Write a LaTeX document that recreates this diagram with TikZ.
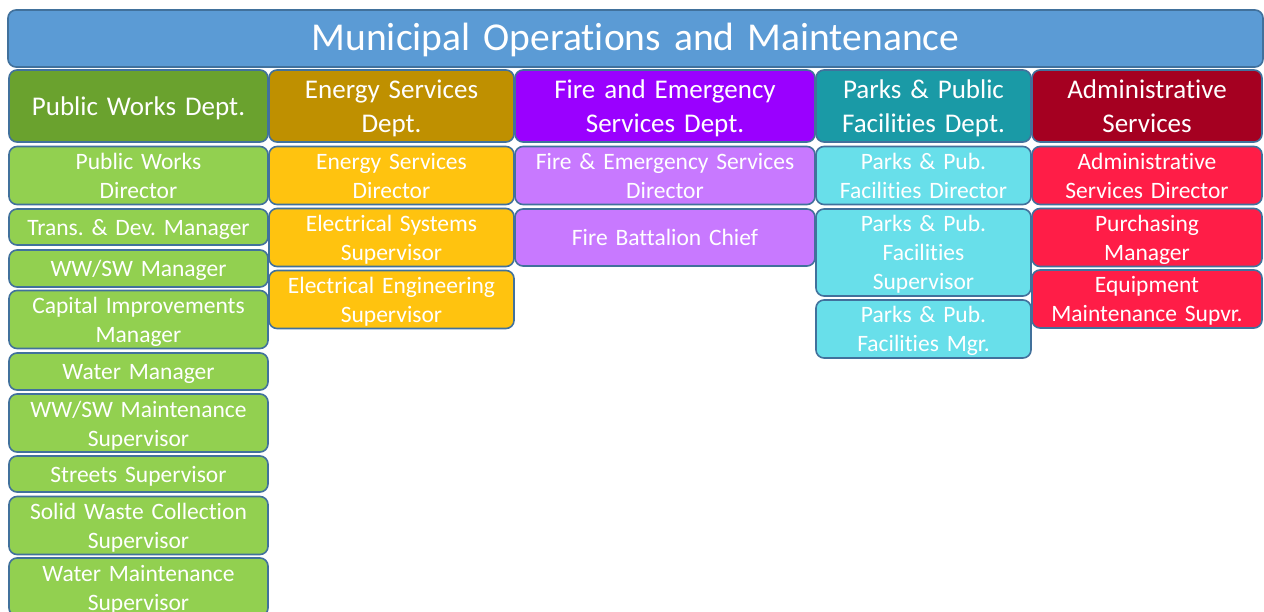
\documentclass[tikz,border=0pt]{standalone}
\usepackage{fontspec}
\setmainfont[Ligatures=NoCommon]{Carlito}
\definecolor{bord}{HTML}{41719C}
\definecolor{banner}{HTML}{5B9BD5}
\definecolor{pwH}{HTML}{6AA22E}
\definecolor{pwI}{HTML}{92D050}
\definecolor{esH}{HTML}{BF9000}
\definecolor{esI}{HTML}{FFC30F}
\definecolor{fiH}{HTML}{9A00FF}
\definecolor{fiI}{HTML}{C879FF}
\definecolor{paH}{HTML}{1A9AA6}
\definecolor{paI}{HTML}{68DFEA}
\definecolor{adH}{HTML}{A50021}
\definecolor{adI}{HTML}{FF1D47}
\newcommand\hstr{\rule[-7pt]{0pt}{33.5pt}}
\newcommand\istr{\rule[-6pt]{0pt}{29pt}}
\newcommand\tstr{\rule[-9.8pt]{0pt}{44pt}}
\tikzset{
  box/.style={draw=bord, line width=1.6pt, rounded corners=8pt, inner sep=0pt,
    text=white, align=center},
  hdr/.style={box, font=\fontsize{27}{33.5}\selectfont,
    execute at begin node=\hstr, execute at end node=\hstr},
  itm/.style={box, font=\fontsize{23.5}{29}\selectfont,
    execute at begin node=\istr, execute at end node=\istr},
  ttl/.style={box, font=\fontsize{39.5}{44}\selectfont, fill=banner,
    execute at begin node=\tstr, execute at end node=\tstr}
}
\newcommand\bx[7]{%
  \pgfmathsetmacro\bxw{#4-#2}%
  \pgfmathsetmacro\bxh{#5-#3}%
  \node[#6, minimum width=\bxw pt, minimum height=\bxh pt, text width=\bxw pt]
    (#1) at ({(#2+#4)/2},{(#3+#5)/2}) {#7};}
\frenchspacing
\begin{document}
\begin{tikzpicture}[x=1pt,y=-1pt]
\clip (0,0) rectangle (1264,612);
\fill[white] (0,0) rectangle (1264,612);
\bx{title}{8}{10}{1263}{67}{ttl}{Municipal Operations and Maintenance}
% Public Works
\bx{pwh}{9}{70}{268}{142}{hdr, fill=pwH}{Public Works Dept.}
\bx{pw1}{9}{147}{268}{204}{itm, fill=pwI}{Public Works\\Director}
\bx{pw2}{9}{209}{268}{245}{itm, fill=pwI}{Trans. \& Dev. Manager}
\bx{pw3}{9}{250}{268}{287}{itm, fill=pwI}{WW/SW Manager}
\bx{pw4}{9}{291}{268}{348}{itm, fill=pwI}{Capital Improvements\\Manager}
\bx{pw5}{9}{353}{268}{390}{itm, fill=pwI}{Water Manager}
\bx{pw6}{9}{394}{268}{452}{itm, fill=pwI}{WW/SW Maintenance\\Supervisor}
\bx{pw7}{9}{456}{268}{492}{itm, fill=pwI}{Streets Supervisor}
\bx{pw8}{9}{497}{268}{554}{itm, fill=pwI}{Solid Waste Collection\\Supervisor}
\bx{pw9}{9}{558}{268}{616}{itm, fill=pwI}{Water Maintenance\\Supervisor}
% Energy
\bx{esh}{269}{70}{514}{142}{hdr, fill=esH}{Energy Services\\Dept.}
\bx{es1}{269}{147}{514}{204}{itm, fill=esI}{Energy Services\\Director}
\bx{es2}{269}{209}{514}{266}{itm, fill=esI}{Electrical Systems\\Supervisor}
\bx{es3}{269}{271}{514}{328}{itm, fill=esI}{Electrical Engineering\\Supervisor}
% Fire
\bx{fih}{515}{70}{815}{142}{hdr, fill=fiH}{Fire and Emergency\\Services Dept.}
\bx{fi1}{515}{147}{815}{204}{itm, fill=fiI}{Fire \& Emergency Services\\Director}
\bx{fi2}{515}{209}{815}{266}{itm, fill=fiI}{Fire Battalion Chief}
% Parks
\bx{pah}{816}{70}{1031}{142}{hdr, fill=paH}{Parks \& Public\\Facilities Dept.}
\bx{pa1}{816}{147}{1031}{204}{itm, fill=paI}{Parks \& Pub.\\Facilities Director}
\bx{pa2}{816}{209}{1031}{296}{itm, fill=paI}{Parks \& Pub.\\Facilities\\Supervisor}
\bx{pa3}{816}{300}{1031}{358}{itm, fill=paI}{Parks \& Pub.\\Facilities Mgr.}
% Administrative
\bx{adh}{1032}{70}{1262}{142}{hdr, fill=adH}{Administrative\\Services}
\bx{ad1}{1032}{147}{1262}{204}{itm, fill=adI}{Administrative\\Services Director}
\bx{ad2}{1032}{209}{1262}{266}{itm, fill=adI}{Purchasing\\Manager}
\bx{ad3}{1032}{270}{1262}{328}{itm, fill=adI}{Equipment\\Maintenance Supvr.}
\end{tikzpicture}
\end{document}
